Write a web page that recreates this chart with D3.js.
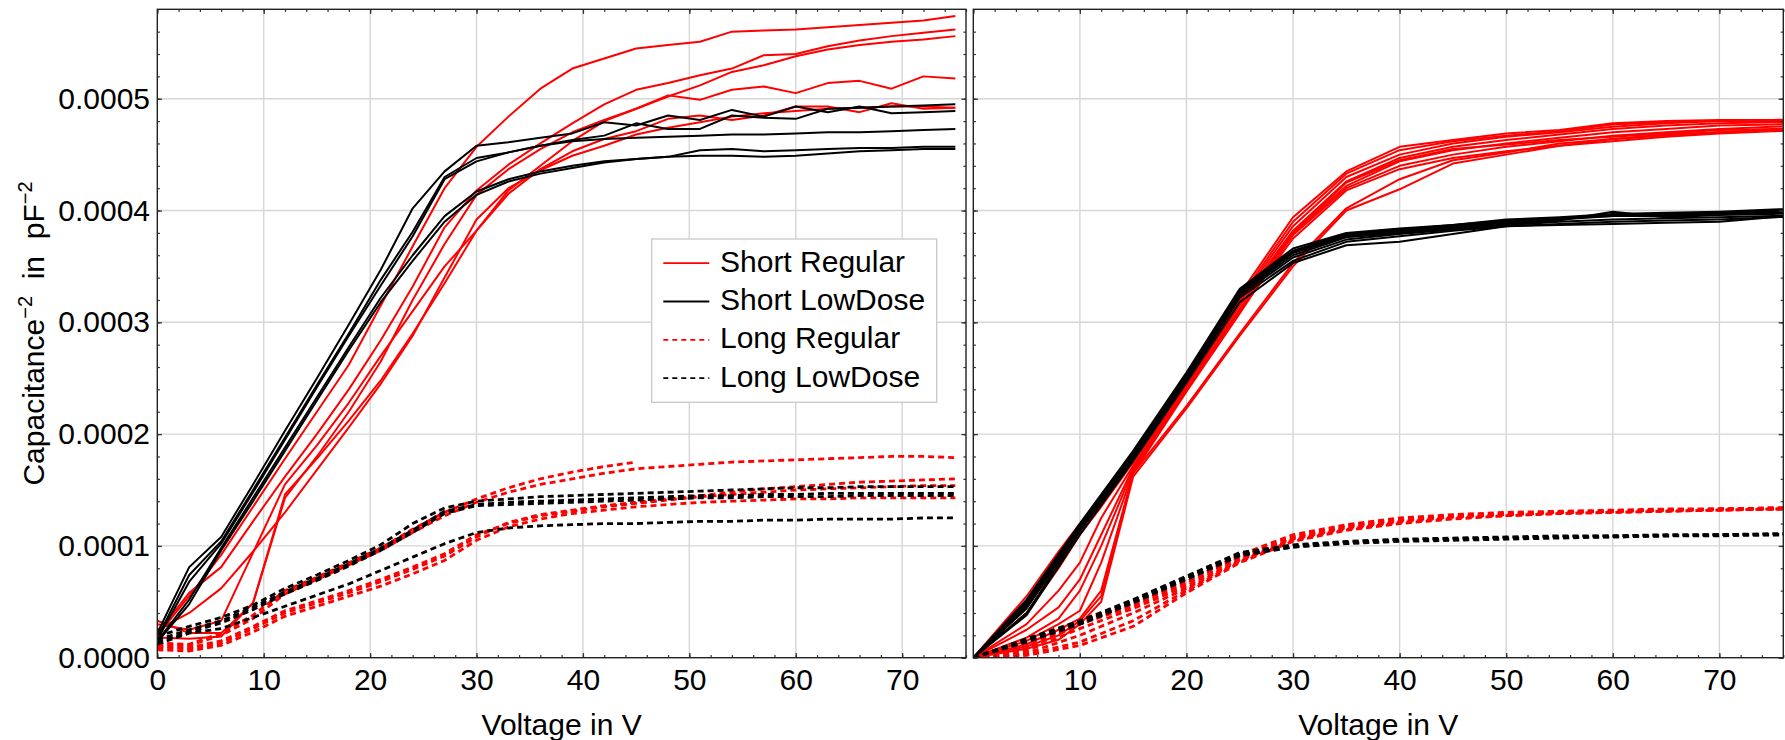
<!DOCTYPE html>
<html>
<head>
<meta charset="utf-8">
<script src="https://cdn.jsdelivr.net/npm/d3@7"></script>
<style>
  body { margin: 0; background: #fff; }
  text { font-family: 'Liberation Sans', Arial, sans-serif; fill: #000; }
</style>
</head>
<body>
<div id="chart"></div>
<script>
// all capacitance values below are in units of 1e-4 pF^-2
const leftVolts = [0, 3, 6, 9, 12, 15, 18, 21, 24, 27, 30, 33, 36, 39, 42, 45, 48, 51, 54, 57, 60, 63, 66, 69, 72, 75];
const rightVolts = [0, 5, 10, 15, 20, 25, 30, 35, 40, 45, 50, 55, 60, 65, 70, 75, 80];
const rightRedVolts = [0, 5, 8, 10, 12, 15, 20, 25, 30, 35, 40, 45, 50, 55, 60, 65, 70, 75, 80];

const leftShortRegular = [
  [0.20, 0.55, 0.92, 1.35, 1.78, 2.20, 2.62, 3.15, 3.68, 4.20, 4.57, 4.84, 5.09, 5.27, 5.36, 5.45, 5.48, 5.51, 5.60, 5.61, 5.62, 5.64, 5.66, 5.68, 5.70, 5.74],
  [0.22, 0.58, 0.81, 1.22, 1.62, 2.00, 2.40, 2.84, 3.32, 3.85, 4.18, 4.41, 4.60, 4.78, 4.95, 5.08, 5.14, 5.21, 5.27, 5.39, 5.40, 5.47, 5.52, 5.56, 5.59, 5.62],
  [0.30, 0.25, 0.33, 0.94, 1.55, 1.90, 2.28, 2.70, 3.10, 3.50, 3.82, 4.18, 4.40, 4.62, 4.80, 4.91, 5.02, 5.12, 5.24, 5.30, 5.38, 5.44, 5.48, 5.51, 5.53, 5.56],
  [0.33, 0.22, 0.22, 0.49, 1.43, 1.80, 2.20, 2.65, 3.20, 3.70, 4.14, 4.37, 4.55, 4.70, 4.81, 4.91, 5.03, 4.99, 5.08, 5.11, 5.05, 5.14, 5.16, 5.09, 5.20, 5.18],
  [0.18, 0.17, 0.19, 0.49, 1.46, 1.78, 2.12, 2.48, 2.90, 3.35, 3.82, 4.15, 4.37, 4.53, 4.64, 4.71, 4.82, 4.85, 4.81, 4.85, 4.93, 4.93, 4.88, 4.96, 4.91, 4.92],
  [0.25, 0.40, 0.62, 0.95, 1.30, 1.68, 2.06, 2.45, 2.88, 3.40, 3.92, 4.20, 4.36, 4.49, 4.58, 4.68, 4.74, 4.79, 4.84, 4.87, 4.89, 4.91, 4.92, 4.93, 4.93, 4.92]
];
const leftShortLowDose = [
  [0.22, 0.81, 1.08, 1.55, 2.03, 2.50, 2.98, 3.47, 4.02, 4.35, 4.58, 4.61, 4.65, 4.69, 4.79, 4.76, 4.85, 4.81, 4.90, 4.84, 4.93, 4.88, 4.93, 4.87, 4.88, 4.89],
  [0.18, 0.74, 1.04, 1.50, 1.97, 2.44, 2.90, 3.38, 3.81, 4.30, 4.47, 4.52, 4.58, 4.63, 4.67, 4.78, 4.73, 4.73, 4.85, 4.83, 4.82, 4.91, 4.92, 4.93, 4.94, 4.95],
  [0.16, 0.68, 1.02, 1.48, 1.95, 2.42, 2.88, 3.33, 3.77, 4.28, 4.44, 4.52, 4.58, 4.62, 4.64, 4.65, 4.66, 4.67, 4.68, 4.68, 4.69, 4.70, 4.70, 4.71, 4.72, 4.73],
  [0.15, 0.52, 0.98, 1.43, 1.88, 2.33, 2.78, 3.22, 3.60, 3.95, 4.17, 4.28, 4.35, 4.40, 4.44, 4.46, 4.48, 4.54, 4.55, 4.53, 4.54, 4.55, 4.56, 4.56, 4.57, 4.57],
  [0.14, 0.48, 0.96, 1.40, 1.85, 2.30, 2.75, 3.18, 3.55, 3.90, 4.14, 4.26, 4.33, 4.38, 4.43, 4.46, 4.48, 4.49, 4.49, 4.48, 4.49, 4.51, 4.53, 4.54, 4.55, 4.55]
];
const leftLongRegular = [
  [0.13, 0.12, 0.22, 0.38, 0.60, 0.72, 0.85, 0.98, 1.15, 1.30, 1.42, 1.52, 1.60, 1.66, 1.71, 1.75],
  [0.12, 0.11, 0.20, 0.35, 0.57, 0.70, 0.83, 0.96, 1.12, 1.27, 1.39, 1.48, 1.55, 1.60, 1.65, 1.69, 1.71, 1.73, 1.75, 1.76, 1.77, 1.78, 1.79, 1.80, 1.80, 1.79],
  [0.09, 0.08, 0.13, 0.26, 0.40, 0.49, 0.58, 0.68, 0.79, 0.91, 1.08, 1.21, 1.28, 1.32, 1.36, 1.39, 1.42, 1.45, 1.48, 1.51, 1.53, 1.55, 1.57, 1.58, 1.59, 1.60],
  [0.10, 0.09, 0.15, 0.28, 0.42, 0.51, 0.60, 0.70, 0.81, 0.93, 1.10, 1.20, 1.27, 1.31, 1.35, 1.38, 1.41, 1.44, 1.46, 1.48, 1.50, 1.51, 1.52, 1.53, 1.54, 1.54],
  [0.07, 0.06, 0.11, 0.23, 0.37, 0.46, 0.55, 0.64, 0.75, 0.87, 1.05, 1.17, 1.24, 1.29, 1.32, 1.35, 1.37, 1.39, 1.40, 1.41, 1.42, 1.42, 1.43, 1.43, 1.43, 1.43]
];
const leftLongLowDose = [
  [0.19, 0.28, 0.36, 0.47, 0.62, 0.74, 0.87, 1.01, 1.20, 1.34, 1.40, 1.42, 1.44, 1.45, 1.46, 1.47, 1.48, 1.49, 1.50, 1.51, 1.52, 1.52, 1.53, 1.53, 1.53, 1.53],
  [0.16, 0.25, 0.33, 0.45, 0.59, 0.71, 0.84, 0.98, 1.14, 1.31, 1.37, 1.39, 1.40, 1.41, 1.42, 1.43, 1.44, 1.45, 1.45, 1.46, 1.46, 1.47, 1.47, 1.47, 1.47, 1.47],
  [0.14, 0.23, 0.31, 0.43, 0.57, 0.69, 0.82, 0.96, 1.12, 1.29, 1.36, 1.37, 1.38, 1.39, 1.40, 1.41, 1.42, 1.43, 1.43, 1.44, 1.44, 1.44, 1.45, 1.45, 1.45, 1.45],
  [0.12, 0.22, 0.26, 0.36, 0.46, 0.56, 0.66, 0.78, 0.90, 1.02, 1.12, 1.16, 1.18, 1.19, 1.20, 1.20, 1.21, 1.22, 1.22, 1.23, 1.23, 1.24, 1.24, 1.24, 1.25, 1.25]
];

const rightShortRegular = [
  [0, 0.55, 0.95, 1.20, 1.42, 1.80, 2.50, 3.25, 3.94, 4.35, 4.57, 4.63, 4.69, 4.72, 4.78, 4.80, 4.81, 4.81, 4.82],
  [0, 0.45, 0.85, 1.15, 1.38, 1.78, 2.48, 3.22, 3.90, 4.33, 4.54, 4.62, 4.67, 4.71, 4.77, 4.79, 4.80, 4.80, 4.81],
  [0, 0.40, 0.80, 1.10, 1.35, 1.75, 2.46, 3.20, 3.86, 4.30, 4.50, 4.60, 4.66, 4.70, 4.75, 4.78, 4.80, 4.80, 4.80],
  [0, 0.30, 0.60, 0.85, 1.25, 1.72, 2.45, 3.18, 3.82, 4.26, 4.47, 4.57, 4.63, 4.68, 4.73, 4.76, 4.78, 4.79, 4.79],
  [0, 0.25, 0.45, 0.70, 1.10, 1.70, 2.43, 3.15, 3.80, 4.22, 4.44, 4.54, 4.60, 4.65, 4.70, 4.73, 4.76, 4.77, 4.78],
  [0, 0.18, 0.35, 0.60, 1.00, 1.68, 2.42, 3.12, 3.78, 4.20, 4.40, 4.50, 4.57, 4.62, 4.67, 4.70, 4.73, 4.75, 4.76],
  [0, 0.15, 0.30, 0.42, 0.85, 1.66, 2.40, 3.10, 3.75, 4.18, 4.37, 4.47, 4.53, 4.58, 4.64, 4.67, 4.70, 4.72, 4.74],
  [0, 0.12, 0.25, 0.35, 0.60, 1.65, 2.38, 3.08, 3.80, 4.25, 4.45, 4.55, 4.59, 4.63, 4.66, 4.69, 4.72, 4.73, 4.74],
  [0, 0.10, 0.20, 0.33, 0.55, 1.65, 2.25, 2.90, 3.53, 4.02, 4.28, 4.45, 4.52, 4.60, 4.64, 4.68, 4.70, 4.72, 4.73],
  [0, 0.08, 0.16, 0.30, 0.50, 1.62, 2.23, 2.88, 3.50, 4.00, 4.19, 4.42, 4.50, 4.58, 4.62, 4.66, 4.69, 4.71, 4.72]
];
const rightShortLowDose = [
  [0, 0.52, 1.20, 1.85, 2.55, 3.30, 3.66, 3.80, 3.84, 3.87, 3.92, 3.94, 3.97, 3.98, 3.99, 4.01, 4.02],
  [0, 0.50, 1.19, 1.84, 2.54, 3.29, 3.64, 3.79, 3.83, 3.87, 3.91, 3.93, 3.96, 3.97, 3.98, 4.00, 4.01],
  [0, 0.48, 1.18, 1.83, 2.53, 3.28, 3.63, 3.78, 3.82, 3.86, 3.90, 3.93, 3.95, 3.96, 3.98, 3.99, 4.00],
  [0, 0.47, 1.17, 1.82, 2.52, 3.27, 3.62, 3.77, 3.81, 3.85, 3.89, 3.92, 3.95, 3.95, 3.97, 3.98, 3.99],
  [0, 0.45, 1.16, 1.81, 2.51, 3.26, 3.60, 3.76, 3.80, 3.84, 3.88, 3.91, 3.99, 3.94, 3.96, 3.97, 3.98],
  [0, 0.44, 1.15, 1.80, 2.50, 3.24, 3.58, 3.74, 3.79, 3.83, 3.87, 3.90, 3.92, 3.93, 3.94, 3.95, 3.96],
  [0, 0.40, 1.13, 1.78, 2.48, 3.22, 3.55, 3.72, 3.77, 3.82, 3.86, 3.88, 3.90, 3.91, 3.92, 3.94, 3.95],
  [0, 0.38, 1.10, 1.76, 2.46, 3.18, 3.53, 3.69, 3.72, 3.79, 3.86, 3.87, 3.88, 3.89, 3.90, 3.94, 3.95]
];
const rightLongRegular = [
  [0, 0.10, 0.32, 0.48, 0.68, 0.92, 1.10, 1.19, 1.25, 1.28, 1.30, 1.31, 1.32, 1.33, 1.33, 1.34, 1.35],
  [0, 0.08, 0.30, 0.46, 0.66, 0.90, 1.08, 1.18, 1.24, 1.27, 1.29, 1.30, 1.31, 1.32, 1.33, 1.34, 1.34],
  [0, 0.06, 0.26, 0.44, 0.64, 0.88, 1.07, 1.17, 1.23, 1.26, 1.28, 1.30, 1.31, 1.32, 1.33, 1.33, 1.34],
  [0, 0.04, 0.20, 0.40, 0.62, 0.87, 1.06, 1.16, 1.22, 1.26, 1.28, 1.30, 1.31, 1.32, 1.32, 1.33, 1.34],
  [0, 0.03, 0.14, 0.33, 0.60, 0.86, 1.05, 1.15, 1.21, 1.25, 1.27, 1.29, 1.30, 1.31, 1.32, 1.33, 1.33],
  [0, 0.02, 0.11, 0.28, 0.58, 0.85, 1.04, 1.14, 1.20, 1.24, 1.27, 1.29, 1.30, 1.31, 1.32, 1.33, 1.33]
];
const rightLongLowDose = [
  [0, 0.17, 0.33, 0.52, 0.73, 0.94, 1.01, 1.04, 1.06, 1.07, 1.08, 1.09, 1.09, 1.10, 1.10, 1.11, 1.11],
  [0, 0.16, 0.32, 0.51, 0.72, 0.93, 1.00, 1.03, 1.05, 1.06, 1.07, 1.08, 1.09, 1.09, 1.10, 1.10, 1.11],
  [0, 0.15, 0.31, 0.50, 0.71, 0.92, 0.99, 1.03, 1.05, 1.06, 1.07, 1.08, 1.08, 1.09, 1.10, 1.10, 1.10],
  [0, 0.14, 0.30, 0.49, 0.70, 0.91, 0.99, 1.02, 1.04, 1.05, 1.06, 1.07, 1.08, 1.09, 1.09, 1.10, 1.10]
];

const legendLabels = ['Short Regular', 'Short LowDose', 'Long Regular', 'Long LowDose'];
const xTickLabelsLeft = [0, 10, 20, 30, 40, 50, 60, 70];
const xTickLabelsRight = [10, 20, 30, 40, 50, 60, 70];
const yTickLabels = [0, 0.0001, 0.0002, 0.0003, 0.0004, 0.0005];

const styles = {
  'Short Regular': {color: '#ff0000', dash: null, width: 2},
  'Short LowDose': {color: '#000000', dash: null, width: 2},
  'Long Regular': {color: '#ff0000', dash: '6 4', width: 2.8},
  'Long LowDose': {color: '#000000', dash: '6 4', width: 2.8}
};

const width = 1785;
const height = 740;
const plotTop = 9.3;
const plotBottom = 657.7;
const tickFont = 30;

const svg = d3.select('#chart')
  .append('svg')
    .attr('width', width)
    .attr('height', height);

const y = d3.scaleLinear().domain([0, 0.00058]).range([plotBottom, plotTop]);

const panels = [
  {
    id: 'left',
    x: d3.scaleLinear().domain([0, 76]).range([157.3, 966]),
    xLabels: xTickLabelsLeft,
    yLabels: true,
    groups: [
      {name: 'Short Regular', volts: leftVolts, series: leftShortRegular},
      {name: 'Short LowDose', volts: leftVolts, series: leftShortLowDose},
      {name: 'Long Regular', volts: leftVolts, series: leftLongRegular},
      {name: 'Long LowDose', volts: leftVolts, series: leftLongLowDose}
    ]
  },
  {
    id: 'right',
    x: d3.scaleLinear().domain([0, 76]).range([973.3, 1783.3]),
    xLabels: xTickLabelsRight,
    yLabels: false,
    groups: [
      {name: 'Short Regular', volts: rightRedVolts, series: rightShortRegular},
      {name: 'Short LowDose', volts: rightVolts, series: rightShortLowDose},
      {name: 'Long Regular', volts: rightVolts, series: rightLongRegular},
      {name: 'Long LowDose', volts: rightVolts, series: rightLongLowDose}
    ]
  }
];

const xMinor = d3.range(0, 77, 2);
const yMinor = d3.range(0, 29).map(i => i * 0.00002);

panels.forEach(p => {
  const x = p.x;
  const [x0, x1] = x.range();
  const g = svg.append('g').attr('class', 'panel-' + p.id);

  g.append('clipPath')
      .attr('id', 'clip-' + p.id)
    .append('rect')
      .attr('x', x0)
      .attr('y', plotTop)
      .attr('width', x1 - x0)
      .attr('height', plotBottom - plotTop);

  // grid
  g.append('g')
    .selectAll('line')
    .data([10, 20, 30, 40, 50, 60, 70])
    .join('line')
      .attr('x1', d => x(d)).attr('x2', d => x(d))
      .attr('y1', plotTop).attr('y2', plotBottom)
      .attr('stroke', '#d6d6d6')
      .attr('stroke-width', 1.4);

  g.append('g')
    .selectAll('line')
    .data(yTickLabels.slice(1))
    .join('line')
      .attr('x1', x0).attr('x2', x1)
      .attr('y1', d => y(d)).attr('y2', d => y(d))
      .attr('stroke', '#d6d6d6')
      .attr('stroke-width', 1.4);

  // curves
  const curves = g.append('g').attr('clip-path', `url(#clip-${p.id})`);
  p.groups.forEach(grp => {
    const st = styles[grp.name];
    const line = d3.line()
      .x((d, i) => x(grp.volts[i]))
      .y(d => y(d * 1e-4));
    curves.append('g')
      .selectAll('path')
      .data(grp.series)
      .join('path')
        .attr('d', line)
        .attr('fill', 'none')
        .attr('stroke', st.color)
        .attr('stroke-width', st.width)
        .attr('stroke-dasharray', st.dash)
        .attr('stroke-linejoin', 'round');
  });

  // frame ticks, pointing inward on all four sides
  const sides = [
    {axis: d3.axisBottom, scale: x, pos: `translate(0,${plotBottom})`, major: p.xLabels, minor: xMinor, labels: true, fmt: d3.format('d')},
    {axis: d3.axisTop, scale: x, pos: `translate(0,${plotTop})`, major: [0, 10, 20, 30, 40, 50, 60, 70], minor: xMinor, labels: false},
    {axis: d3.axisLeft, scale: y, pos: `translate(${x0},0)`, major: yTickLabels, minor: yMinor, labels: p.yLabels, fmt: d3.format('.4f')},
    {axis: d3.axisRight, scale: y, pos: `translate(${x1},0)`, major: yTickLabels, minor: yMinor, labels: false}
  ];

  sides.forEach(s => {
    g.append('g')
        .attr('transform', s.pos)
        .call(s.axis(s.scale).tickValues(s.minor).tickSize(-2.6).tickFormat(''))
        .call(a => a.select('.domain').remove())
        .call(a => a.selectAll('line').attr('stroke', '#333').attr('stroke-width', 1.2));

    g.append('g')
        .attr('transform', s.pos)
        .call(s.axis(s.scale).tickValues(s.major).tickSize(-4.6)
          .tickPadding(s.axis === d3.axisBottom ? 11.5 : 7.3)
          .tickFormat(s.labels ? s.fmt : ''))
        .call(a => a.select('.domain').remove())
        .call(a => a.selectAll('line').attr('stroke', '#333').attr('stroke-width', 1.3))
        .call(a => a.selectAll('text')
          .attr('font-size', tickFont)
          .attr('fill', '#000')
          .style('font-family', "'Liberation Sans', Arial, sans-serif"));
  });

  g.append('rect')
      .attr('x', x0)
      .attr('y', plotTop)
      .attr('width', x1 - x0)
      .attr('height', plotBottom - plotTop)
      .attr('fill', 'none')
      .attr('stroke', '#222')
      .attr('stroke-width', 1.4);

  g.append('text')
      .text('Voltage in V')
      .attr('text-anchor', 'middle')
      .attr('x', (x0 + x1) / 2)
      .attr('y', 735)
      .attr('font-size', 30);
});

// y axis title with superscripts
const yTitle = svg.append('text')
    .attr('transform', `translate(44,${(plotTop + plotBottom) / 2}) rotate(-90)`)
    .attr('text-anchor', 'middle')
    .attr('font-size', 30)
    .style('white-space', 'pre');
yTitle.append('tspan').text('Capacitance');
yTitle.append('tspan').text('\u22122').attr('font-size', 20).attr('dy', -12);
yTitle.append('tspan').text('  in  pF').attr('font-size', 30).attr('dy', 12);
yTitle.append('tspan').text('\u22122').attr('font-size', 20).attr('dy', -12);

// legend
const legend = svg.append('g').attr('class', 'legend');
legend.append('rect')
    .attr('x', 651.7)
    .attr('y', 239)
    .attr('width', 285)
    .attr('height', 163.3)
    .attr('fill', '#fff')
    .attr('stroke', '#c8c8c8')
    .attr('stroke-width', 1.3);

const rows = legend.selectAll('g.row')
  .data(legendLabels)
  .join('g')
    .attr('class', 'row')
    .attr('transform', (d, i) => `translate(0,${271.7 + i * 38.3})`);

rows.append('line')
    .attr('x1', 663.3)
    .attr('x2', 709.3)
    .attr('y1', -8.5)
    .attr('y2', -8.5)
    .attr('stroke', d => styles[d].color)
    .attr('stroke-width', 1.8)
    .attr('stroke-dasharray', d => styles[d].dash ? '5 4' : null);

rows.append('text')
    .attr('x', 720)
    .attr('y', 0)
    .attr('font-size', 30)
    .text(d => d);
</script>
</body>
</html>
